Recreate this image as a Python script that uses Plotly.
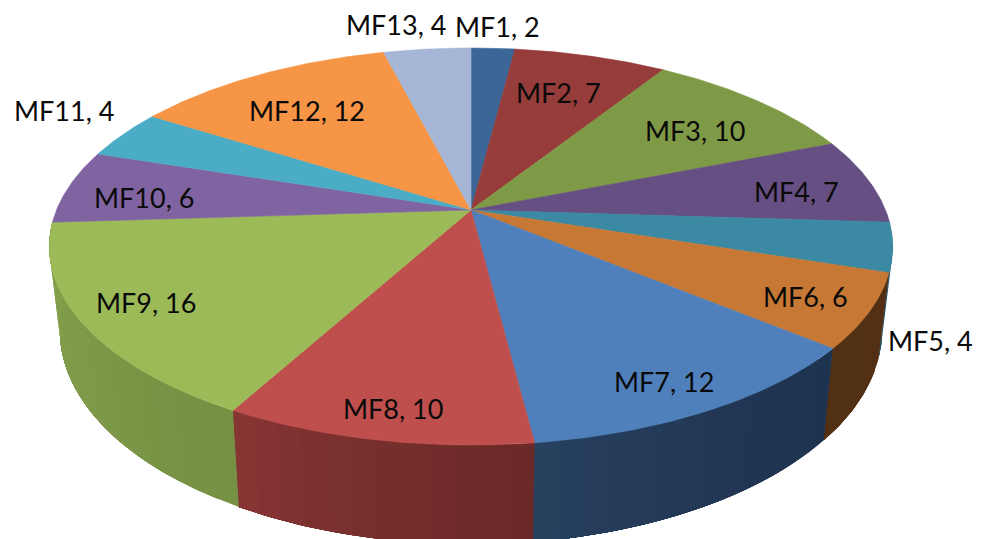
import numpy as np
import plotly.graph_objects as go

# Pie data
categories = ["MF1", "MF2", "MF3", "MF4", "MF5", "MF6", "MF7",
              "MF8", "MF9", "MF10", "MF11", "MF12", "MF13"]
values = [2, 7, 10, 7, 4, 6, 12, 10, 16, 6, 4, 12, 4]

# Slice styling
top_colors = ["#3C6698", "#963D3B", "#7F9A46", "#664F82", "#3B89A2", "#C77834", "#4F80BC",
              "#BE4F4D", "#9CBB58", "#8064A1", "#4BACC6", "#F59545", "#A6B6D6"]
wall_shade_west = {"MF5": "#27596A", "MF6": "#503013", "MF7": "#2A4362",
                   "MF8": "#8B3735", "MF9": "#829E4B"}
wall_shade_east = {"MF5": "#27596A", "MF6": "#533014", "MF7": "#1E3350",
                   "MF8": "#6A2928", "MF9": "#768F44"}

# Label centres in plot coordinates
label_xy = [(497, 26), (558, 92), (695, 130), (796, 191), (930, 340), (805, 296), (664, 381),
            (393, 408), (146, 302), (144, 197), (64, 110), (307, 110), (396, 24)]

W, H = 987, 539
CX, CY = 471, 210
PERSP, SCALE_X, SCALE_Y = 0.184, 414.5, 191.8
WALL_DEPTH, WALL_SHRINK = 81, 0.975


def rim(deg, lower=False):
    """Project a rim point of the disc (degrees clockwise from 12 o'clock)."""
    a = np.radians(deg)
    u, v = np.sin(a), -np.cos(a)
    w = 1 - PERSP * v
    x = SCALE_X * u / w
    y = CY + SCALE_Y * v / w
    if lower:
        return CX + WALL_SHRINK * x, y + WALL_DEPTH / w
    return CX + x, y


def hex_mix(c0, c1, t):
    a = [int(c0[i:i + 2], 16) for i in (1, 3, 5)]
    b = [int(c1[i:i + 2], 16) for i in (1, 3, 5)]
    return "#" + "".join(f"{round(p + (q - p) * t):02X}" for p, q in zip(a, b))


fractions = np.cumsum([0] + values) / sum(values) * 360
fig = go.Figure()


def polygon(xs, ys, color, edge=0.6):
    fig.add_trace(go.Scatter(x=xs, y=ys, mode="lines", fill="toself", fillcolor=color,
                             line=dict(color=color, width=edge), hoverinfo="skip",
                             showlegend=False))


# Side wall: each facet runs to the slice's far edge and the next one paints
# over it, so neighbouring facets leave no seams between them
for i, name in enumerate(categories):
    if name not in wall_shade_west:
        continue
    a0, a1 = fractions[i], fractions[i + 1]
    edges = np.linspace(a0, a1, max(2, int((a1 - a0) / 3)) + 1)
    xa, xb = rim(a0)[0], rim(a1)[0]
    for j in range(len(edges) - 1):
        band = np.linspace(edges[j], a1, 30)
        top = [rim(a) for a in band]
        low = [rim(a, True) for a in band[::-1]]
        outline = top + low + [top[0]]
        x_mid = (rim(edges[j])[0] + rim(edges[j + 1])[0]) / 2
        # The rim can bulge past the slice's end points near the widest part of the disc
        t = float(np.clip((x_mid - min(xa, xb)) / abs(xa - xb), 0, 1))
        color = hex_mix(wall_shade_west[name], wall_shade_east[name], t ** 0.6)
        polygon([p[0] for p in outline], [p[1] for p in outline], color, edge=0)

# Top face
for i, color in enumerate(top_colors):
    arc = np.linspace(fractions[i], fractions[i + 1], 60)
    pts = [rim(a) for a in arc]
    xs = [CX] + [p[0] for p in pts] + [CX]
    ys = [CY] + [p[1] for p in pts] + [CY]
    polygon(xs, ys, color)

annotations = [
    dict(x=x, y=y, xref="x", yref="y", text=f"{c}, {v}", showarrow=False,
         xanchor="center", yanchor="middle",
         font=dict(family="Lato", size=27, color="#0A0A0A"))
    for c, v, (x, y) in zip(categories, values, label_xy)
]

fig.update_layout(
    width=W, height=H, margin=dict(l=0, r=0, t=0, b=0),
    paper_bgcolor="white", plot_bgcolor="white",
    xaxis=dict(range=[0, W], visible=False, fixedrange=True),
    yaxis=dict(range=[H, 0], visible=False, fixedrange=True),
    annotations=annotations,
)
fig.write_html("out.html", config={"displayModeBar": False})
